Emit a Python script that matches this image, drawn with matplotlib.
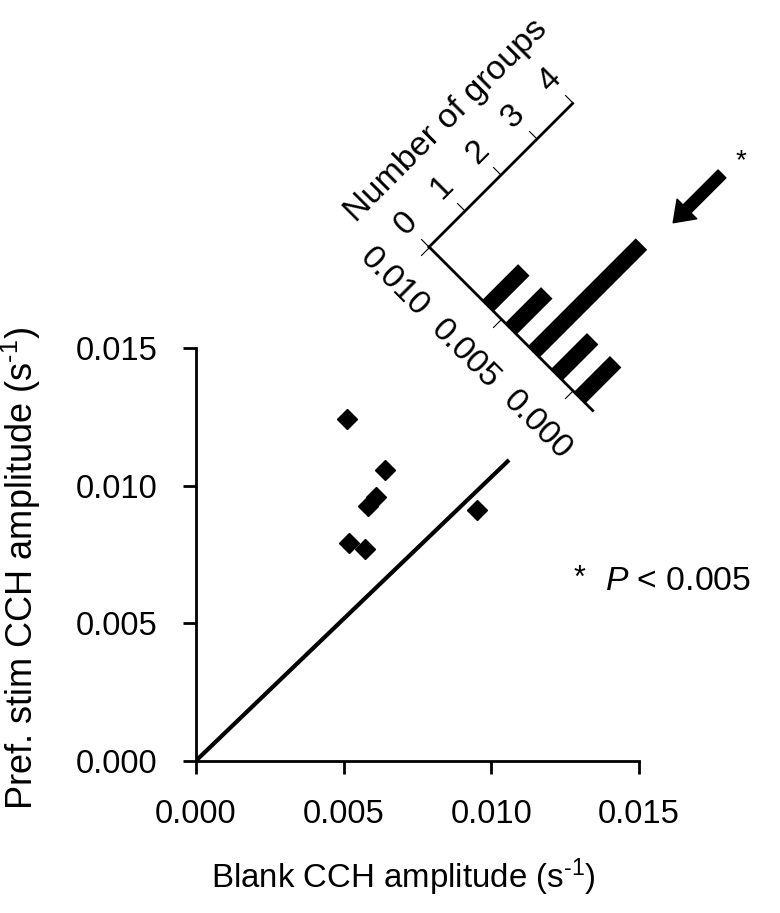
import matplotlib
matplotlib.use('Agg')
import matplotlib.pyplot as plt
import matplotlib.ticker as mticker
from matplotlib.transforms import Affine2D
import mpl_toolkits.axisartist.floating_axes as floating_axes
from mpl_toolkits.axisartist.grid_finder import FixedLocator

plt.rcParams['font.family'] = ['Liberation Sans', 'DejaVu Sans']
plt.rcParams['mathtext.fontset'] = 'custom'
plt.rcParams['mathtext.rm'] = 'Liberation Sans'
plt.rcParams['mathtext.it'] = 'Liberation Sans:italic'
plt.rcParams['mathtext.default'] = 'regular'

# ---- data ----
blank_amp = [0.00512, 0.00641, 0.00608, 0.00582, 0.00517, 0.00572, 0.00953]
pref_amp = [0.01241, 0.01057, 0.00960, 0.00927, 0.00793, 0.00770, 0.00911]
line_x = [0.0, 0.0106]
line_y = [0.0, 0.01093]
axis_ticks = [0.000, 0.005, 0.010, 0.015]

hist_bins = [0.0059, 0.0043, 0.0027, 0.0011, -0.0005]
hist_counts = [1, 1, 3, 1, 1]
hist_ticks = [0.000, 0.005, 0.010]
count_ticks = [0, 1, 2, 3, 4]
mean_dist = 0.00234

# ---- figure ----
fig = plt.figure(figsize=(7.8, 9.13), dpi=100)
ax = fig.add_axes([0.25128, 0.16681, 0.56795, 0.45203])
ax.plot(line_x, line_y, color='black', lw=3, solid_capstyle='butt')
ax.plot(blank_amp, pref_amp, ls='none', marker='D', ms=10, color='black')
ax.set_xlim(0, 0.015)
ax.set_ylim(0, 0.015)
ax.set_xticks(axis_ticks)
ax.set_yticks(axis_ticks)
ax.xaxis.set_major_formatter(mticker.FormatStrFormatter('%.3f'))
ax.yaxis.set_major_formatter(mticker.FormatStrFormatter('%.3f'))
for s in ['top', 'right']:
    ax.spines[s].set_visible(False)
for s in ['left', 'bottom']:
    ax.spines[s].set_linewidth(2)
ax.tick_params(axis='both', direction='out', length=9.5, width=2, labelsize=23.5)
ax.tick_params(axis='x', pad=18)
ax.tick_params(axis='y', pad=18)

fig.text(403 / 780, 1 - 888 / 913, r'Blank CCH amplitude (s$^{\text{-}1}$)',
         ha='center', va='baseline', fontsize=23.8)
fig.text(21 / 780, 1 - 568 / 913, r'Pref. stim CCH amplitude (s$^{\text{-}1}$)',
         ha='center', va='center', rotation=90, fontsize=26)

fig.text(579 / 780, 1 - 579 / 913, '*', ha='center', va='center', fontsize=22)
fig.text(605 / 780, 1 - 590 / 913, r'$\mathit{P}$ < 0.005', ha='left',
         va='baseline', fontsize=24.3)

# ---- rotated histogram inset (x = count, y = value) ----
tr = Affine2D().scale(2.5, 1000).rotate_deg(45)
grid_helper = floating_axes.GridHelperCurveLinear(
    tr, extremes=(0, 4, -0.0014, 0.010),
    grid_locator1=FixedLocator(count_ticks),
    grid_locator2=FixedLocator(hist_ticks),
    tick_formatter1=mticker.FormatStrFormatter('%d'),
    tick_formatter2=mticker.FormatStrFormatter('%.3f'))
axh = fig.add_axes([426 / 780, 1 - 413.6 / 913, 313.3 / 780, 313.2 / 913],
                   axes_class=floating_axes.FloatingAxes,
                   grid_helper=grid_helper)
axh.patch.set_facecolor('none')
aux = axh.get_aux_axes(tr)
aux.barh(hist_bins, hist_counts, height=0.0008, color='black')

axh.axis['bottom'].set_visible(False)
axh.axis['right'].set_visible(False)
axh.axis['top'].toggle(ticklabels=True, label=True)
for k in ['left', 'top']:
    a = axh.axis[k]
    a.line.set_linewidth(2)
    a.major_ticks.set_linewidth(2)
    a.major_ticks.set_ticksize(8.5)
    a.major_ticks.set_tick_out(True)
    a.major_ticklabels.set_fontsize(24)
axh.axis['left'].major_ticklabels.set_axis_direction('bottom')
axh.axis['left'].major_ticklabels.set_pad(17)
axh.axis['top'].major_ticklabels.set_pad(9)
axh.axis['top'].label.set_text('Number of groups')
axh.axis['top'].label.set_fontsize(24.5)
axh.axis['top'].label.set_pad(10)

aux.annotate('', xy=(3.74, mean_dist), xytext=(5.1, mean_dist),
             arrowprops=dict(arrowstyle='simple,head_length=0.7,head_width=1.0,tail_width=0.4',
                             color='black', mutation_scale=20, shrinkA=0, shrinkB=0),
             annotation_clip=False)
aux.text(5.54, 0.0021, '*', ha='center', va='center', fontsize=20)

fig.savefig('out.png', dpi=100)
